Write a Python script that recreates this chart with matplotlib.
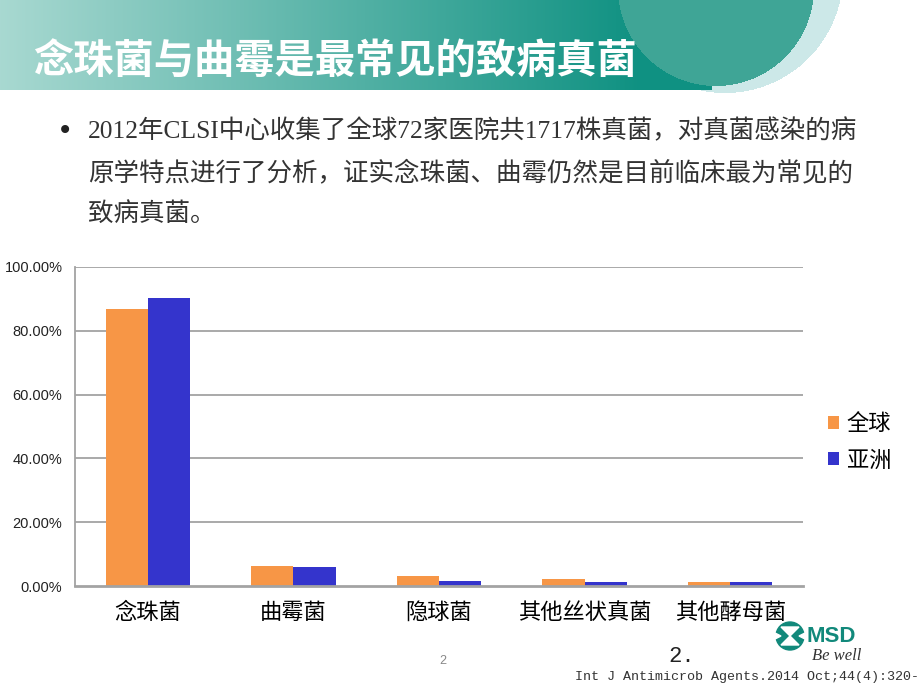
import numpy as np
import matplotlib
matplotlib.use('Agg')
import matplotlib.pyplot as plt
from matplotlib.patches import Circle, Polygon
from matplotlib.ticker import FuncFormatter

plt.rcParams['font.family'] = ['Noto Sans CJK SC', 'DejaVu Sans']

# data
categories = ['念珠菌', '曲霉菌', '隐球菌', '其他丝状真菌', '其他酵母菌']
series_names = ['全球', '亚洲']
global_vals = [0.868, 0.063, 0.031, 0.022, 0.013]
asia_vals = [0.903, 0.060, 0.015, 0.012, 0.012]
yticks = [0.0, 0.2, 0.4, 0.6, 0.8, 1.0]

title = '念珠菌与曲霉是最常见的致病真菌'
bullet_lines = ['2012年CLSI中心收集了全球72家医院共1717株真菌，对真菌感染的病',
                '原学特点进行了分析，证实念珠菌、曲霉仍然是目前临床最为常见的',
                '致病真菌。']
citation = 'Int J Antimicrob Agents.2014 Oct;44(4):320-'

ORANGE = '#F79646'
BLUE = '#3434CC'
GRID = '#A3A3A3'

W, H = 920, 690
fig = plt.figure(figsize=(W / 100, H / 100), dpi=100)

# background layer in pixel coordinates
bg = fig.add_axes([0, 0, 1, 1], zorder=0)
bg.set_xlim(0, W)
bg.set_ylim(H, 0)
bg.axis('off')

# header band: gradient + circles
hh = 100
yy, xx = np.mgrid[0:hh, 0:W] + 0.5
img = np.ones((hh, W, 4))
img[..., 3] = 0
t = np.clip(xx / 640.0, 0, 1)
c0 = np.array([0.66, 0.85, 0.82])
c1 = np.array([0.06, 0.57, 0.51])
grad = c0[None, None, :] * (1 - t[..., None]) + c1[None, None, :] * t[..., None]
outer = (xx - 725) ** 2 + (yy + 25) ** 2 < 118 ** 2
img[outer, :3] = [0.80, 0.91, 0.91]
img[outer, 3] = 1
band = (yy < 90) & (xx < 712)
img[band, :3] = grad[band]
img[band, 3] = 1
inner = (xx - 716) ** 2 + (yy + 12) ** 2 < 98 ** 2
img[inner, :3] = [0.25, 0.65, 0.59]
img[inner, 3] = 1
bg.imshow(img, extent=(0, W, hh, 0), interpolation='bilinear', zorder=1)

bg.text(33, 61, title, color='white', fontsize=29, fontweight='bold',
        va='center', ha='left', zorder=3)

# bullet text
bg.text(57, 131, '•', fontsize=20, color='#222222', va='center', ha='left',
        family=['DejaVu Sans'])
for i, line in enumerate(bullet_lines):
    bg.text(88, 131 + i * 41.5, line, fontsize=18.4, color='#333333',
            va='center', ha='left', family=['Liberation Serif', 'Noto Sans CJK SC'])

# footer
bg.text(443, 661, '2', fontsize=9, color='#888888', va='center', ha='center',
        family=['Liberation Sans'])
bg.text(668, 657, '2.', fontsize=16, color='#222222', va='center', ha='left',
        family=['Liberation Mono'])
bg.text(575, 677, citation, fontsize=9.6, color='#333333', va='center', ha='left',
        family=['Liberation Mono'])

# MSD logo
teal = '#12897B'
bg.add_patch(Circle((790, 636), 14, color=teal, zorder=2))
bg.add_patch(Polygon([(781, 627), (799, 627), (790, 636), (799, 645), (781, 645), (790, 636)],
                     closed=True, color='white', zorder=3))
bg.add_patch(Polygon([(775, 633), (781, 636), (775, 639)], closed=True, color='white', zorder=3))
bg.add_patch(Polygon([(805, 633), (799, 636), (805, 639)], closed=True, color='white', zorder=3))
bg.text(807, 636, 'MSD', fontsize=16, fontweight='bold', color=teal, va='center',
        ha='left', family=['Liberation Sans'])
bg.text(812, 656, 'Be well', fontsize=12, style='italic', color='#333333',
        va='center', ha='left', family=['Liberation Serif'])

# chart
ax = fig.add_axes([75 / W, 1 - 586 / H, 728 / W, 319 / H], zorder=2)
ax.patch.set_alpha(0)
x = np.arange(len(categories))
w = 0.29
b1 = ax.bar(x - w / 2, global_vals, w, color=ORANGE, label=series_names[0], zorder=3)
b2 = ax.bar(x + w / 2, asia_vals, w, color=BLUE, label=series_names[1], zorder=3)

ax.set_xlim(-0.5, len(categories) - 0.5)
ax.set_ylim(0, 1.0)
ax.set_yticks(yticks)
ax.yaxis.set_major_formatter(FuncFormatter(lambda v, p: f'{v * 100:.2f}%'))
for v in yticks[1:]:
    ax.axhline(v, color=GRID, lw=1.3, zorder=1)
for s in ['top', 'right']:
    ax.spines[s].set_visible(False)
ax.spines['left'].set_color(GRID)
ax.spines['left'].set_linewidth(1.3)
ax.spines['bottom'].set_color(GRID)
ax.spines['bottom'].set_linewidth(2)
ax.spines['bottom'].set_zorder(4)
ax.tick_params(axis='y', length=0, pad=9, labelsize=10.5, labelcolor='#222222')
ax.tick_params(axis='x', length=0, pad=11, labelsize=16, labelcolor='black')
for lab in ax.get_yticklabels():
    lab.set_family(['Liberation Sans'])
ax.set_xticks(x)
ax.set_xticklabels(categories, fontweight='medium')

fig.legend(handles=[b1, b2], labels=series_names, loc='center left',
           bbox_to_anchor=(828 / W, 1 - 442 / H), frameon=False, fontsize=16,
           handlelength=0.5, handleheight=0.5, handletextpad=0.35, labelspacing=0.6,
           borderaxespad=0, borderpad=0)

fig.savefig('out.png', dpi=100)
